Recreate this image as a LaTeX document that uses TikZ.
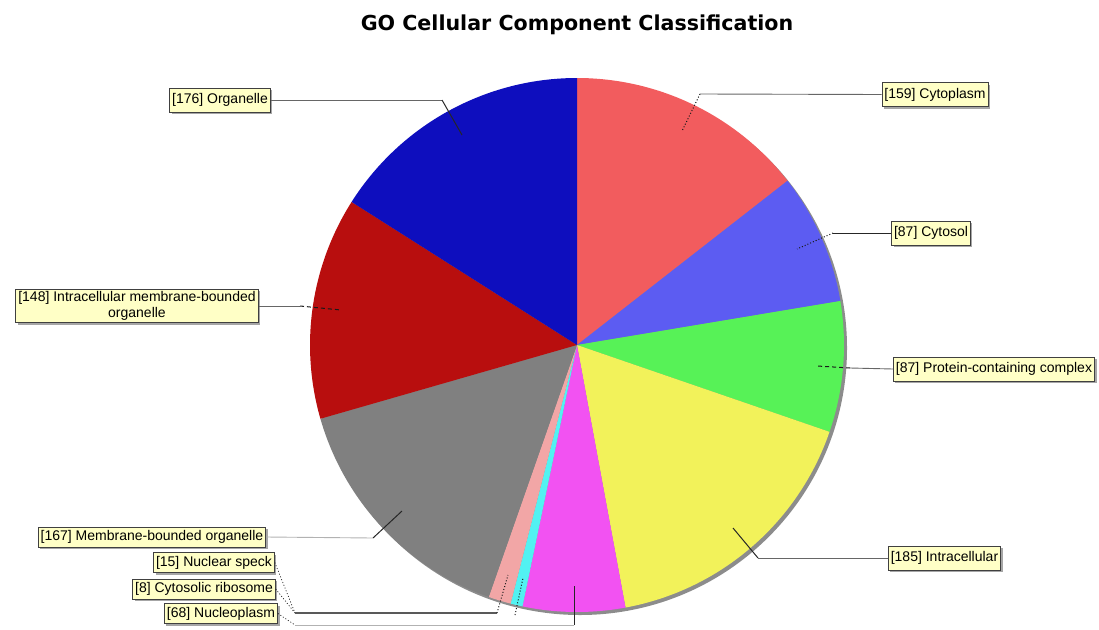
\documentclass[tikz,border=0pt]{standalone}
\usepackage{fontspec}
\setmainfont{Liberation Sans}
\newfontfamily\titlefont{DejaVu Sans}
\usetikzlibrary{shadows}
\definecolor{cCytoplasm}{HTML}{F25C5E}
\definecolor{cCytosol}{HTML}{5C5CF2}
\definecolor{cProtein}{HTML}{57F257}
\definecolor{cIntra}{HTML}{F2F25A}
\definecolor{cNucleo}{HTML}{F252F2}
\definecolor{cRibo}{HTML}{52F2F2}
\definecolor{cSpeck}{HTML}{F2A6A6}
\definecolor{cMBO}{HTML}{808080}
\definecolor{cIMBO}{HTML}{B80E0E}
\definecolor{cOrg}{HTML}{0E0EBE}
\definecolor{lblfill}{HTML}{FFFFC6}
\begin{document}
\begin{tikzpicture}[x=1pt,y=1pt,
 lbl/.style={draw=black!75, line width=0.7pt, fill=lblfill, font=\fontsize{14}{16}\selectfont,
   inner xsep=2.5pt, inner ysep=2pt, minimum height=24pt,
   drop shadow={shadow xshift=2pt,shadow yshift=-2pt,fill=black!35,opacity=1}},
 small/.style={minimum height=20pt, inner ysep=1pt},
 lead/.style={draw=black!60, line width=0.9pt},
 darklead/.style={draw=black!85, line width=1pt},
 dotlead/.style={draw=black!90, line width=1pt, dotted},
 dashlead/.style={draw=black!90, line width=1pt, dash pattern=on 4pt off 3pt},
 lightlead/.style={draw=black!30, line width=0.9pt}
]
\useasboundingbox (0,0) rectangle (1099,-629);
\coordinate (c) at (577,-345);
\def\R{267}
% shadow of the pie
\fill[black!45] (580,-348) circle (\R);
% slices
\foreach \a/\b/\col in {90/37.964/cCytoplasm, 37.964/9.491/cCytosol, 9.491/-18.982/cProtein,
  -18.982/-79.527/cIntra, -79.527/-101.782/cNucleo, -101.782/-104.400/cRibo,
  -104.400/-109.309/cSpeck, -109.309/-163.964/cMBO, -163.964/-212.400/cIMBO, -212.400/-270/cOrg}
  \fill[\col] (c) -- ++(\a:\R) arc[start angle=\a, end angle=\b, radius=\R] -- cycle;

% title
\node[font=\titlefont\bfseries\fontsize{20.6}{24}\selectfont] (title) at (577,-25) {GO Cellular Component Classification};

% labels
\node[lbl] (org)   at (220,-100)   {[176] Organelle};
\node[lbl, align=center, font=\fontsize{14}{16}\selectfont] (imbo) at (137,-306) {[148] Intracellular membrane-bounded\\organelle};
\node[lbl] (cyto)  at (935,-94.5)  {[159] Cytoplasm};
\node[lbl] (cytosol) at (931,-233) {[87] Cytosol};
\node[lbl] (prot)  at (994,-369)   {[87] Protein-containing complex};
\node[lbl] (intra) at (944.5,-558) {[185] Intracellular};
\node[lbl, small] (mbo)   at (152,-537)   {[167] Membrane-bounded organelle};
\node[lbl, small] (speck) at (214,-562.5) {[15] Nuclear speck};
\node[lbl, small] (ribo)  at (204,-589)   {[8] Cytosolic ribosome};
\node[lbl, small] (nucleo) at (221,-613.5) {[68] Nucleoplasm};

% leader bend points and ends
\coordinate (orgA) at (442,-100);  \coordinate (orgB) at (462,-135);
\coordinate (cytoA) at (700,-94);  \coordinate (cytoB) at (682,-131);
\coordinate (cytosolA) at (833,-233); \coordinate (cytosolB) at (797,-249);
\coordinate (protA) at (850,-368); \coordinate (protB) at (817,-366);
\coordinate (intraA) at (758,-558); \coordinate (intraB) at (733,-528);
\coordinate (imboA) at (300,-306); \coordinate (imboB) at (341,-310);
\coordinate (mboA) at (373,-538); \coordinate (mboB) at (402,-511);
\coordinate (join) at (295,-613);
\coordinate (speckA) at (497,-613); \coordinate (speckB) at (508,-575);
\coordinate (riboA) at (515,-615); \coordinate (riboB) at (523,-578);
\coordinate (nucA) at (295,-625); \coordinate (nucB) at (574,-625); \coordinate (nucC) at (574,-586);

% leaders
\draw[lead] (org.east) -- (orgA);
\draw[darklead] (orgA) -- (orgB);
\draw[lead] (cyto.west) -- (cytoA);
\draw[dotlead] (cytoA) -- (cytoB);
\draw[darklead] (cytosol.west) -- (cytosolA);
\draw[dotlead] (cytosolA) -- (cytosolB);
\draw[lead] (prot.west) -- (protA);
\draw[dashlead] (protA) -- (protB);
\draw[lead] (intra.west) -- (intraA);
\draw[darklead] (intraA) -- (intraB);
\draw[lead] (imbo.east) -- (imboA);
\draw[dashlead] (imboA) -- (imboB);
\draw[lightlead] (mbo.east) -- (mboA);
\draw[darklead] (mboA) -- (mboB);
\draw[dotlead, line width=0.7pt] (speck.east) -- (join);
\draw[dotlead, line width=0.7pt] (ribo.east) -- (join);
\draw[darklead, line width=1.3pt, draw=black!65] (join) -- (speckA);
\draw[dotlead] (speckA) -- (speckB);
\draw[dotlead] (riboA) -- (riboB);
\draw[dotlead, line width=0.7pt] (nucleo.east) -- (nucA);
\draw[lightlead] (nucA) -- (nucB);
\draw[darklead] (nucB) -- (nucC);
\end{tikzpicture}
\end{document}
